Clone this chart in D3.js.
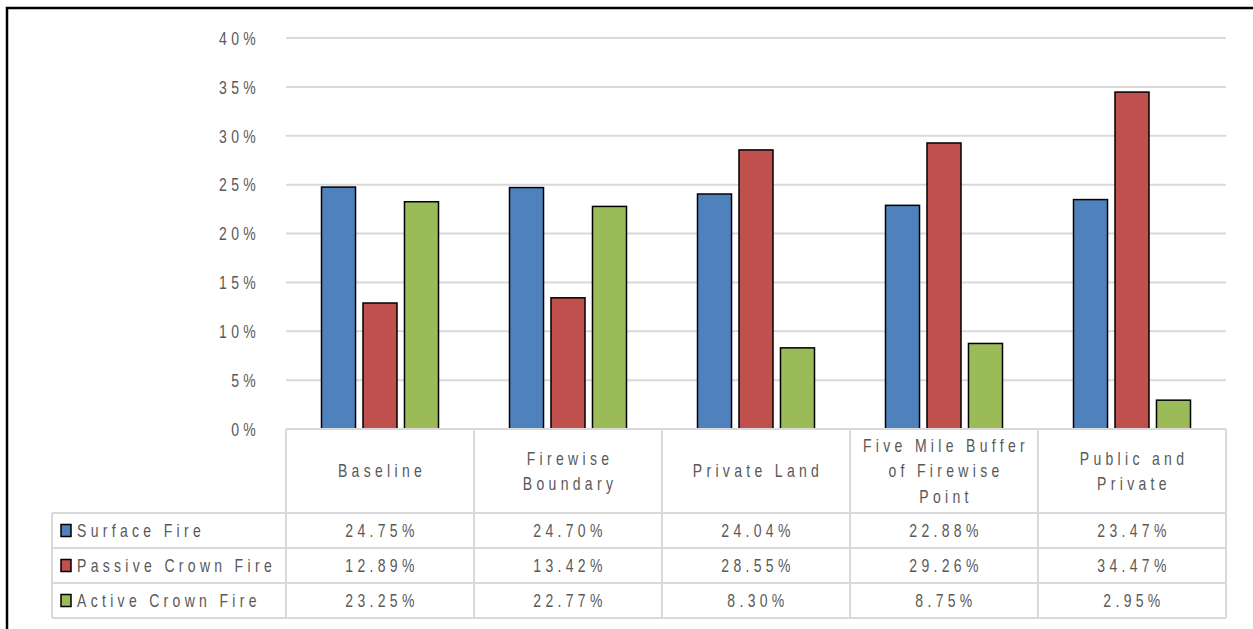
<!DOCTYPE html>
<html><head><meta charset="utf-8">
<script src="https://cdn.jsdelivr.net/npm/d3@7"></script>
<style>
html,body{margin:0;padding:0;background:#fff;overflow:hidden}
text{font-family:"Liberation Sans","Arial",sans-serif;fill:#595959;font-size:17.5px;letter-spacing:5.4px}
</style></head>
<body>
<svg id="c" width="1253" height="629"></svg>
<script>
const categories = [["Baseline"],["Firewise","Boundary"],["Private Land"],["Five Mile Buffer","of Firewise","Point"],["Public and","Private"]];
const seriesNames = ["Surface Fire","Passive Crown Fire","Active Crown Fire"];
const surfaceFire = [24.75, 24.70, 24.04, 22.88, 23.47];
const passiveCrownFire = [12.89, 13.42, 28.55, 29.26, 34.47];
const activeCrownFire = [23.25, 22.77, 8.30, 8.75, 2.95];
const colors = ["#4F81BD","#C0504D","#9BBB59"];
const yTicks = [0,5,10,15,20,25,30,35,40];
const tickLabels = yTicks.map(v => v + "%");
const series = [surfaceFire, passiveCrownFire, activeCrownFire];

(function(){
const SX = 0.8;
const svg = d3.select("#c");
svg.append("rect").attr("x",7).attr("y",8).attr("width",1300).attr("height",700)
  .attr("fill","none").attr("stroke","#000").attr("stroke-width",2.5);

const pL=286, pR=1226, pT=38, pB=429;
const x = d3.scaleBand().domain(d3.range(categories.length)).range([pL,pR]).padding(0);
const y = d3.scaleLinear().domain([0,40]).range([pB,pT]);
const xs = d3.scaleBand().domain(d3.range(series.length)).range([0,117]).paddingInner(0.18).paddingOuter(0);
const groupOff = (x.bandwidth()-117)/2;

function ntext(g, px, py, anchor){
  const gg = g.append("g").attr("transform",`translate(${px},${py}) scale(${SX},1)`);
  return gg.append("text").attr("x",0).attr("y",0).attr("text-anchor",anchor||"start");
}

svg.append("g").selectAll("line").data(yTicks).join("line")
  .attr("x1",pL).attr("x2",pR).attr("y1",d=>y(d)).attr("y2",d=>y(d))
  .attr("stroke","#d9d9d9").attr("stroke-width",2);

const yAxis = d3.axisLeft(y).tickValues(yTicks).tickFormat((d,i)=>tickLabels[i]).tickSize(0).tickPadding(0);
const ga = svg.append("g").attr("transform","translate(260,0)").call(yAxis);
ga.select(".domain").remove();
ga.attr("font-size",null).attr("font-family",null);
ga.selectAll("text").attr("font-size",null).attr("font-family",null).attr("fill",null)
  .attr("dy","0.36em").attr("transform",`scale(${SX},1)`);

series.forEach((vals,si)=>{
  svg.append("g").selectAll("rect").data(vals).join("rect")
    .attr("x",(d,i)=>x(i)+groupOff+xs(si))
    .attr("width",xs.bandwidth())
    .attr("y",d=>y(d)).attr("height",d=>y(0)-y(d))
    .attr("fill",colors[si]).attr("stroke","#000").attr("stroke-width",1.5);
});

const rowTop=[513,548,583], rowH=35, tabLeft=52;
const tg = svg.append("g").attr("stroke","#d9d9d9").attr("stroke-width",2);
tg.append("line").attr("x1",pL).attr("x2",pR).attr("y1",pB).attr("y2",pB);
[513,548,583,618].forEach(yy=>tg.append("line").attr("x1",tabLeft).attr("x2",pR).attr("y1",yy).attr("y2",yy));
d3.range(categories.length+1).forEach(i=>{
  const xx = i<categories.length ? x(i) : pR;
  tg.append("line").attr("x1",xx).attr("x2",xx).attr("y1",pB).attr("y2",618);
});
tg.append("line").attr("x1",tabLeft).attr("x2",tabLeft).attr("y1",513).attr("y2",618);

const tx = svg.append("g");
categories.forEach((lines,i)=>{
  const cx = x(i)+x.bandwidth()/2+2;
  const cy = 471, lh=25.5;
  lines.forEach((ln,j)=>{
    ntext(tx, cx, cy+(j-(lines.length-1)/2)*lh, "middle").attr("dy","0.36em").text(ln);
  });
});

series.forEach((vals,si)=>{
  const cy = rowTop[si]+rowH/2;
  svg.append("rect").attr("x",61).attr("y",cy-6).attr("width",10).attr("height",12)
    .attr("fill",colors[si]).attr("stroke","#000").attr("stroke-width",1.5);
  ntext(tx, 77, cy).attr("dy","0.36em").text(seriesNames[si]);
  vals.forEach((d,i)=>{
    ntext(tx, x(i)+x.bandwidth()/2+2, cy, "middle").attr("dy","0.36em").text(d.toFixed(2)+"%");
  });
});
})();
</script>
</body></html>
